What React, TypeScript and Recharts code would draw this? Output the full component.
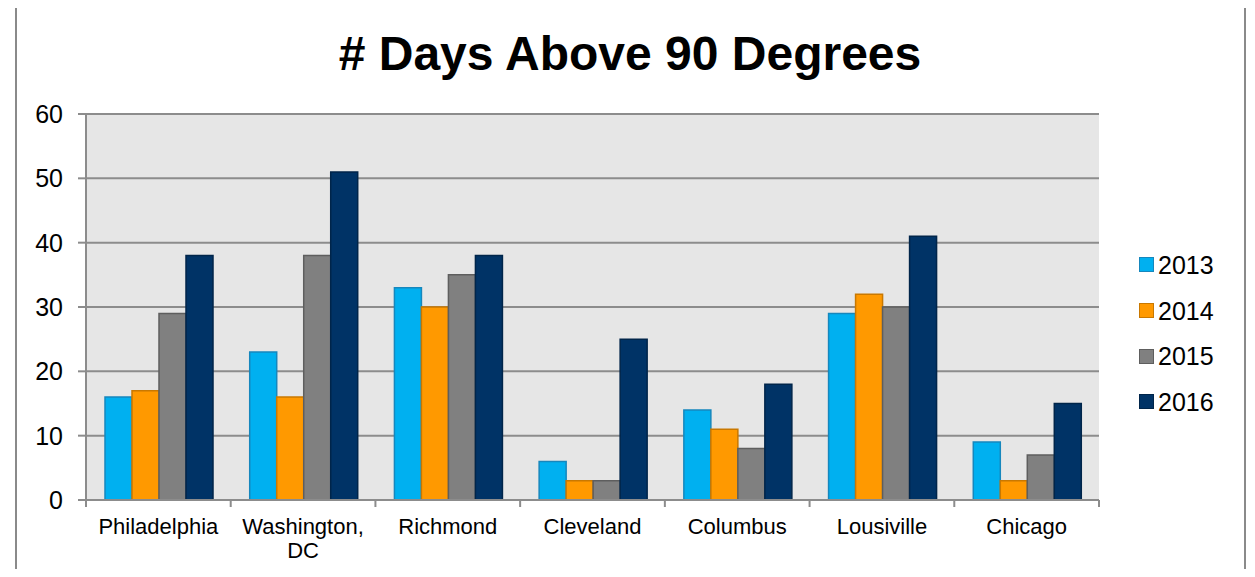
import React from 'react';
import { BarChart, Bar, XAxis, YAxis, CartesianGrid } from 'recharts';

const cities = ['Philadelphia', 'Washington, DC', 'Richmond', 'Cleveland', 'Columbus', 'Lousiville', 'Chicago'];
const days2013 = [16, 23, 33, 6, 14, 29, 9];
const days2014 = [17, 16, 30, 3, 11, 32, 3];
const days2015 = [29, 38, 35, 3, 8, 30, 7];
const days2016 = [38, 51, 38, 25, 18, 41, 15];
const yTicks = [0, 10, 20, 30, 40, 50, 60];

const FONT = '"Liberation Sans", Arial, sans-serif';
const AXIS_GRAY = '#8c8c8c';

const series = [
  { key: '2013', fill: '#00B0F0', stroke: '#1687bd' },
  { key: '2014', fill: '#FF9900', stroke: '#c97800' },
  { key: '2015', fill: '#808080', stroke: '#5e5e5e' },
  { key: '2016', fill: '#003366', stroke: '#00254a' },
];

const data = cities.map((city, i) => ({
  city,
  '2013': days2013[i],
  '2014': days2014[i],
  '2015': days2015[i],
  '2016': days2016[i],
}));

const CHART_W = 1255;
const CHART_H = 577;
const MARGIN = { top: 114, right: 156, bottom: 7, left: 0 };
const Y_AXIS_W = 86;
const PLOT_W = CHART_W - MARGIN.right - MARGIN.left - Y_AXIS_W;

// "Washington, DC" wraps after the comma, like the original
const splitLabel = (label: string) => {
  const i = label.indexOf(', ');
  return i < 0 ? [label] : [label.slice(0, i + 1), label.slice(i + 2)];
};

const CityTick = (props: any) => {
  const { x, y, payload, index } = props;
  const band = PLOT_W / cities.length;
  const left = x - band / 2;
  const lines = splitLabel(String(payload.value));
  return (
    <g>
      <line x1={left} y1={y} x2={left} y2={y + 7} stroke={AXIS_GRAY} strokeWidth={2} />
      {index === cities.length - 1 && (
        <line x1={left + band} y1={y} x2={left + band} y2={y + 7} stroke={AXIS_GRAY} strokeWidth={2} />
      )}
      <text x={x} y={y + 34} textAnchor="middle" fill="#000" style={{ fontSize: 22, fontFamily: FONT }}>
        {lines.map((ln, i) => (
          <tspan key={i} x={x} dy={i === 0 ? 0 : 24}>
            {ln}
          </tspan>
        ))}
      </text>
    </g>
  );
};

const LegendBox = () => (
  <div style={{ position: 'absolute', left: 1139, top: 242, fontFamily: FONT }}>
    {series.map((s) => (
      <div key={s.key} style={{ display: 'flex', alignItems: 'center', height: 45.7 }}>
        <span
          style={{
            display: 'inline-block',
            width: 13,
            height: 13,
            background: s.fill,
            border: `1.5px solid ${s.stroke}`,
            marginRight: 4,
          }}
        />
        <span style={{ fontSize: 25, color: '#000', lineHeight: '28px' }}>{s.key}</span>
      </div>
    ))}
  </div>
);

export default function App() {
  return (
    <div
      style={{
        position: 'relative',
        width: CHART_W,
        height: CHART_H,
        margin: -8,
        overflow: 'hidden',
        background: '#fff',
        fontFamily: FONT,
      }}
    >
      <div
        style={{
          position: 'absolute',
          left: 15,
          top: 5,
          width: 1231,
          height: 640,
          border: '2px solid #8a8a8a',
          boxSizing: 'border-box',
        }}
      />
      <div
        style={{
          position: 'absolute',
          left: 0,
          top: 30,
          width: 1260,
          textAlign: 'center',
          fontSize: 48,
          lineHeight: '48px',
          fontWeight: 'bold',
          color: '#000',
        }}
      >
        # Days Above 90 Degrees
      </div>
      <div style={{ position: 'absolute', left: 0, top: 0 }}>
        <BarChart
          width={CHART_W}
          height={CHART_H}
          data={data}
          margin={MARGIN}
          barCategoryGap={19}
          barGap={0}
        >
          <CartesianGrid
            vertical={false}
            stroke={AXIS_GRAY}
            strokeWidth={2}
            fill="#e6e6e6"
            fillOpacity={1}
          />
          <XAxis
            dataKey="city"
            height={70}
            interval={0}
            tickSize={0}
            tickMargin={0}
            axisLine={{ stroke: AXIS_GRAY, strokeWidth: 2 }}
            tick={<CityTick />}
          />
          <YAxis
            width={Y_AXIS_W}
            domain={[0, 60]}
            ticks={yTicks}
            interval={0}
            tickSize={8}
            tickMargin={15}
            axisLine={{ stroke: AXIS_GRAY, strokeWidth: 2 }}
            tickLine={{ stroke: AXIS_GRAY, strokeWidth: 2 }}
            tick={{ fontSize: 25, fill: '#000', fontFamily: FONT }}
          />
          {series.map((s) => (
            <Bar
              key={s.key}
              dataKey={s.key}
              fill={s.fill}
              stroke={s.stroke}
              strokeWidth={1.5}
              isAnimationActive={false}
            />
          ))}
        </BarChart>
      </div>
      <LegendBox />
    </div>
  );
}
